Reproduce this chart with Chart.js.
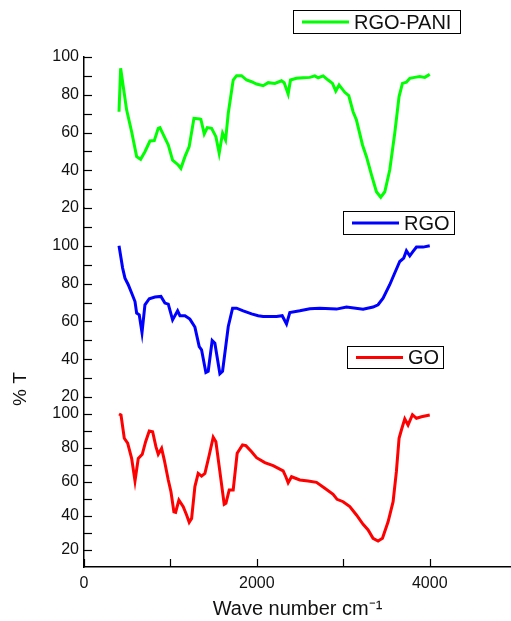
<!DOCTYPE html>
<html>
<head>
<meta charset="utf-8">
<script src="https://cdn.jsdelivr.net/npm/chart.js@4.4.1/dist/chart.umd.min.js"></script>
<style>
  html, body { margin: 0; padding: 0; background: #fff; }
  #wrap { width: 511px; height: 621px; position: relative; }
</style>
</head>
<body>
<div id="wrap"><canvas id="ftir"></canvas></div>
<script>
// FTIR spectra (wave number cm-1, %T)
const seriesNames = ['GO', 'RGO', 'RGO-PANI'];
const seriesColors = ['#ff0000', '#0000ff', '#00ff00'];

const goWave = [405, 428, 466, 505, 551, 590, 628, 674, 713, 755, 794, 832, 859, 898, 929, 975, 1006, 1040, 1060, 1098,
  1148, 1187, 1217, 1245, 1283, 1321, 1360, 1399, 1449, 1495, 1526, 1572, 1622, 1642, 1680, 1726, 1772, 1834, 1873, 1939,
  1996, 2092, 2188, 2304, 2335, 2362, 2401, 2497, 2593, 2690, 2786, 2882, 2928, 2998, 3075, 3152, 3229, 3287, 3344, 3402,
  3453, 3518, 3576, 3614, 3645, 3672, 3711, 3749, 3800, 3846, 3904, 4000];
const goT = [100, 99.4, 85.7, 82.8, 73.9, 60.6, 73.9, 76.3, 83.7, 90, 89.6, 80.8, 76.3, 79.8, 72.9, 61.2, 54.3, 42.5, 42.2, 49.4,
  45.5, 40.6, 36.3, 38.6, 57.3, 65.1, 63.5, 65.1, 75.9, 86.3, 83.7, 66.1, 46.9, 47.5, 55.3, 55.3, 76.9, 81.8, 81.4, 77.8,
  74.3, 71.4, 69.6, 66.5, 63.1, 59.6, 63.1, 61.2, 60.6, 59.8, 56.3, 52.8, 49.8, 48.4, 45.5, 40.6, 35.1, 31.8, 26.9, 25.3,
  26.9, 36.6, 48.4, 66.1, 85.7, 90.6, 97.1, 93.5, 99.6, 97.5, 98.4, 99.4];

const rgoWave = [405, 447, 474, 512, 551, 590, 609, 639, 671, 705, 755, 821, 890, 936, 975, 1025, 1083, 1110, 1168, 1225,
  1283, 1333, 1360, 1410, 1437, 1483, 1514, 1572, 1603, 1669, 1719, 1765, 1842, 1939, 2015, 2073, 2227, 2293, 2343, 2381,
  2497, 2613, 2728, 2921, 3037, 3229, 3344, 3402, 3460, 3537, 3595, 3653, 3699, 3730, 3769, 3807, 3846, 3923, 4000];
const rgoT = [100, 88.2, 82.9, 79.4, 75, 70.5, 64.4, 63.5, 54.1, 68.8, 72, 72.9, 73.2, 69.7, 69.1, 60.8, 65.6, 63, 63, 61.2,
  57, 46.7, 45, 33, 33.6, 49.9, 48.5, 32.3, 33.6, 57.3, 67, 67, 65.6, 64, 63, 62.6, 62.6, 63, 58.6, 64.7,
  65.6, 66.7, 67, 66.5, 67.6, 66.5, 67.6, 68.8, 72.3, 79.4, 85.6, 91.7, 93.5, 97.4, 94.7, 97, 99.3, 99.3, 100];

const paniWave = [405, 424, 493, 551, 609, 655, 705, 763, 813, 859, 879, 948, 975, 1025, 1090, 1121, 1168, 1217, 1272, 1341,
  1352, 1391, 1426, 1476, 1526, 1564, 1603, 1638, 1669, 1726, 1765, 1823, 1881, 1939, 1996, 2073, 2131, 2208, 2285, 2316,
  2362, 2389, 2458, 2535, 2613, 2670, 2709, 2767, 2824, 2875, 2913, 2951, 3017, 3063, 3113, 3152, 3222, 3268, 3326, 3383,
  3433, 3480, 3537, 3595, 3645, 3684, 3730, 3769, 3826, 3884, 3942, 4000];
const paniT = [71, 94, 72, 60.4, 47.2, 45.8, 49.8, 55.5, 55.7, 62.2, 62.6, 56, 53.4, 45.4, 42.8, 41, 47.2, 52.5, 67.5, 67.2,
  67, 59.2, 62.6, 62.2, 57.8, 49, 59.6, 56, 70.2, 87.8, 90.1, 90.1, 87.8, 86.9, 85.7, 84.8, 86.4, 86, 87.4, 86.4,
  80.4, 87.8, 88.7, 89, 89.2, 90, 89, 90, 87.8, 86, 82, 85.2, 81.3, 79.5, 71, 66.6, 53.4, 47.2, 37.5, 28.6,
  25.7, 28.6, 40.1, 59.6, 79, 86, 86.6, 88.7, 89.2, 89.6, 89.2, 90.8];

const xTicks = [0, 1000, 2000, 3000, 4000];
const xTickLabels = ['0', '', '2000', '', '4000'];
const yTicks = [20, 30, 40, 50, 60, 70, 80, 90, 100];
const yTickLabels = ['20', '', '40', '', '60', '', '80', '', '100'];

function pts(xs, ys) {
  return xs.map((x, i) => ({ x: x, y: ys[i] }));
}

const tickFont = { family: 'Liberation Sans, Arial, sans-serif', size: 16 };

function yAxis(min, max, weight, keep) {
  return {
    type: 'linear',
    position: 'left',
    stack: 'panels',
    stackWeight: weight,
    min: min,
    max: max,
    afterBuildTicks: s => { s.ticks = keep.map(v => ({ value: v })); },
    afterFit: s => { s.width = 84; },
    ticks: {
      autoSkip: false,
      padding: 5,
      color: '#111',
      font: tickFont,
      callback: v => { const i = yTicks.indexOf(v); return i >= 0 ? yTickLabels[i] : ''; }
    },
    grid: { drawOnChartArea: false, drawTicks: false },
    border: { color: '#000', width: 1.5 }
  };
}

// legend boxes and the y title, drawn on the canvas
const legendBoxes = [
  { series: 2, left: 293, top: 10, w: 167, h: 23 },
  { series: 1, left: 343, top: 211, w: 111, h: 23 },
  { series: 0, left: 347, top: 346, w: 96, h: 22 }
];

const extras = {
  id: 'extras',
  afterDraw(chart) {
    const ctx = chart.ctx;
    ctx.save();
    // tick marks pointing into the plot
    ctx.strokeStyle = '#000';
    ctx.lineWidth = 1.2;
    ['yGO', 'yRGO', 'yPANI'].forEach(id => {
      const s = chart.scales[id];
      s.ticks.forEach(t => {
        const y = Math.round(s.getPixelForValue(t.value)) + 0.5;
        ctx.beginPath();
        ctx.moveTo(s.right, y);
        ctx.lineTo(s.right + 8, y);
        ctx.stroke();
      });
    });
    const sx = chart.scales.x;
    sx.ticks.forEach(t => {
      const x = Math.round(sx.getPixelForValue(t.value)) + 0.5;
      ctx.beginPath();
      ctx.moveTo(x, sx.top);
      ctx.lineTo(x, sx.top - 8);
      ctx.stroke();
    });

    legendBoxes.forEach(b => {
      const ds = chart.data.datasets[b.series];
      ctx.strokeStyle = '#000';
      ctx.lineWidth = 1;
      ctx.strokeRect(b.left + 0.5, b.top + 0.5, b.w, b.h);
      const cy = b.top + b.h / 2 + 0.5;
      ctx.strokeStyle = ds.borderColor;
      ctx.lineWidth = 3;
      ctx.beginPath();
      ctx.moveTo(b.left + 9, cy);
      ctx.lineTo(b.left + 56, cy);
      ctx.stroke();
      ctx.fillStyle = '#111';
      ctx.font = '20px "Liberation Sans", Arial, sans-serif';
      ctx.textBaseline = 'middle';
      ctx.textAlign = 'left';
      ctx.fillText(ds.label, b.left + 61, cy + 1);
    });
    ctx.translate(21, 389);
    ctx.rotate(-Math.PI / 2);
    ctx.font = '19px "Liberation Sans", Arial, sans-serif';
    ctx.textAlign = 'center';
    ctx.textBaseline = 'middle';
    ctx.fillStyle = '#111';
    ctx.fillText('% T', 0, 0);
    ctx.restore();
  }
};

const ds = (idx, xs, ys, axis) => ({
  label: seriesNames[idx],
  data: pts(xs, ys),
  borderColor: seriesColors[idx],
  backgroundColor: seriesColors[idx],
  borderWidth: 3,
  pointRadius: 0,
  tension: 0,
  yAxisID: axis
});

new Chart(document.getElementById('ftir'), {
  type: 'line',
  data: {
    datasets: [
      ds(0, goWave, goT, 'yGO'),
      ds(1, rgoWave, rgoT, 'yRGO'),
      ds(2, paniWave, paniT, 'yPANI')
    ]
  },
  options: {
    responsive: true,
    maintainAspectRatio: false,
    animation: false,
    layout: { padding: { top: 57, right: 0, left: 0, bottom: 0 } },
    plugins: { legend: { display: false }, tooltip: { enabled: false } },
    scales: {
      x: {
        type: 'linear',
        min: 0,
        max: 4940,
        afterBuildTicks: s => { s.ticks = xTicks.map(v => ({ value: v })); },
        afterFit: s => { s.height = 54; },
        ticks: {
          autoSkip: false,
          maxRotation: 0,
          padding: 7,
          color: '#111',
          font: tickFont,
          callback: v => { const i = xTicks.indexOf(v); return i >= 0 ? xTickLabels[i] : ''; }
        },
        grid: { drawOnChartArea: false, drawTicks: false },
        border: { color: '#000', width: 1.5 },
        title: {
          display: true,
          text: 'Wave number cm\u207B\u00B9',
          color: '#111',
          font: { family: 'Liberation Sans, Arial, sans-serif', size: 20 },
          padding: { top: 0, bottom: 0 }
        }
      },
      yGO: yAxis(10, 110, 170, yTicks),
      yRGO: yAxis(20, 120, 189, yTicks.concat([110])),
      yPANI: yAxis(20, 100, 151, yTicks)
    }
  },
  plugins: [extras]
});
</script>
</body>
</html>
